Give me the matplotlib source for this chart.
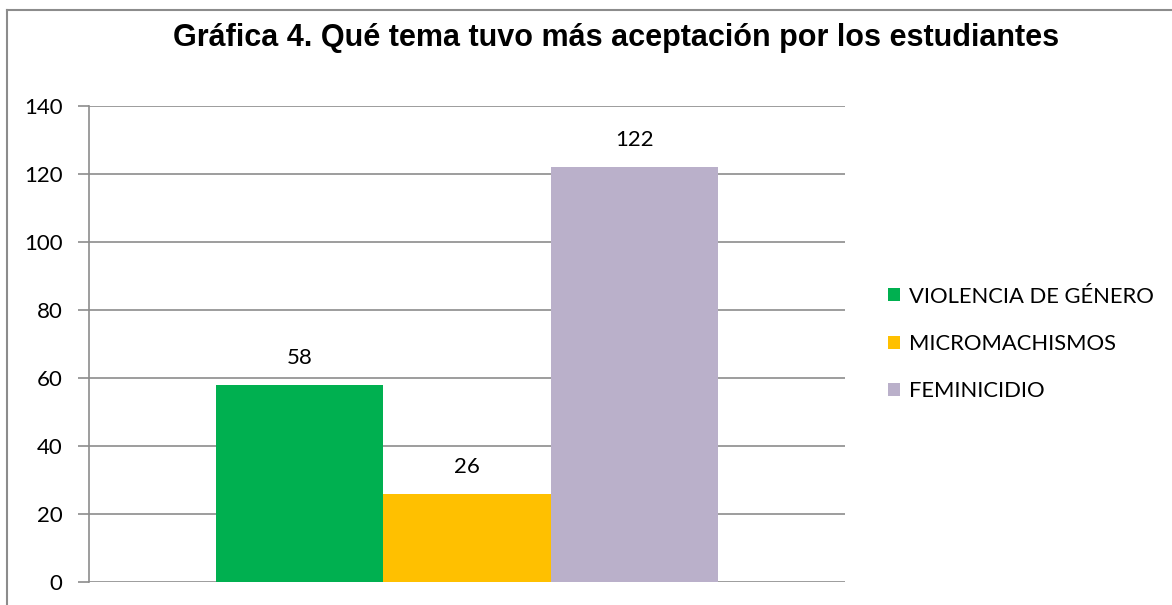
import numpy
from matplotlib import pyplot
from matplotlib.lines import Line2D
from matplotlib.patches import Patch

title     = "Gráfica 4. Qué tema tuvo más aceptación por los estudiantes"
temas     = ["VIOLENCIA DE GÉNERO", "MICROMACHISMOS", "FEMINICIDIO"]
respuestas = [58, 26, 122]
colores   = ["#00B050", "#FFC000", "#BAB0CA"]
yticks    = [0, 20, 40, 60, 80, 100, 120, 140]

pyplot.rcParams['font.family'] = ['Lato', 'DejaVu Sans']

fig = pyplot.figure(figsize=(11.72, 6.05), dpi=100)
ax = fig.add_axes([89/1172, 1-582/605, (845-89)/1172, (582-106)/605])

bar_w = 0.221
centers = 0.5 + bar_w*(numpy.arange(len(temas)) - 1)
for i in range(len(temas)):
    ax.bar(centers[i], respuestas[i], width=bar_w, color=colores[i], zorder=3, label=temas[i])
    ax.text(centers[i], respuestas[i] + 5, str(respuestas[i]), ha="center", va="bottom", fontsize=16)

ax.set_xlim(0, 1)
ax.set_ylim(0, 140)
ax.set_yticks(yticks)
ax.set_xticks([])
ax.yaxis.grid(True, color="#8c8c8c", linewidth=1.2, zorder=0)
for s in ["top", "right", "bottom"]:
    ax.spines[s].set_visible(False)
ax.spines["left"].set_color("#8c8c8c")
ax.spines["left"].set_linewidth(1.2)
ax.tick_params(axis="y", length=8, width=1.2, color="#8c8c8c", labelsize=16, pad=11)

handles = [Patch(facecolor=c, edgecolor="none") for c in colores]
fig.legend(handles, temas, loc="center left", bbox_to_anchor=(868/1172, 1-344/605),
           frameon=False, fontsize=15.8, handlelength=0.56, handleheight=0.56,
           handletextpad=0.4, labelspacing=1.25)

fig.text(616/1172, 1-38/605, title, ha="center", va="center", fontsize=22, fontweight="bold",
         family=["Liberation Sans Narrow", "Liberation Sans"])

# chart border (only top and left visible in the crop)
fig.add_artist(Line2D([7/1172, 7/1172], [0, 1-10/605], color="#8c8c8c", linewidth=1.5))
fig.add_artist(Line2D([7/1172, 1], [1-10/605, 1-10/605], color="#8c8c8c", linewidth=1.5))

fig.savefig("out.png", dpi=100)
